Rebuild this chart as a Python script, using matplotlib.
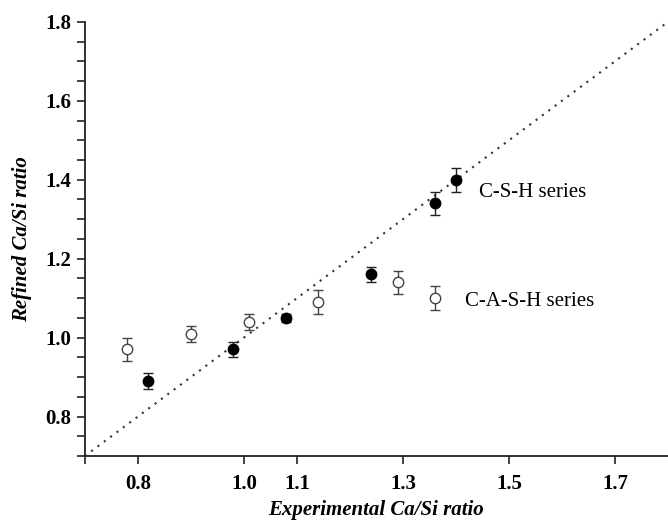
import matplotlib
matplotlib.use("Agg")
import matplotlib.pyplot as plt
import numpy as np

plt.rcParams['font.family'] = ['Liberation Serif', 'DejaVu Serif']

# C-S-H series (filled)
csh_x = [0.82, 0.98, 1.08, 1.24, 1.36, 1.40]
csh_y = [0.89, 0.97, 1.05, 1.16, 1.34, 1.40]
csh_err = [0.02, 0.02, 0.01, 0.02, 0.03, 0.03]

# C-A-S-H series (open)
cash_x = [0.78, 0.90, 1.01, 1.14, 1.29, 1.36]
cash_y = [0.97, 1.01, 1.04, 1.09, 1.14, 1.10]
cash_err = [0.03, 0.02, 0.02, 0.03, 0.03, 0.03]

xticks = [0.8, 1.0, 1.1, 1.3, 1.5, 1.7]
xtick_labels = ["0.8", "1.0", "1.1", "1.3", "1.5", "1.7"]
yticks = [0.8, 1.0, 1.2, 1.4, 1.6, 1.8]
ytick_labels = ["0.8", "1.0", "1.2", "1.4", "1.6", "1.8"]
diag = [0.7, 1.8]

fig = plt.figure(figsize=(6.68, 5.2), dpi=100)
ax = fig.add_axes([0.127, 0.123, 0.873, 0.835])

ax.plot(diag, diag, linestyle=(0, (1, 2.8)), color='#333333', linewidth=1.5, zorder=1)

ax.errorbar(cash_x, cash_y, yerr=cash_err, fmt='o', mfc='white', mec='#444444',
            mew=1.0, ms=7.5, ecolor='#444444', elinewidth=1.0, capsize=3.6, capthick=1.0, zorder=3)
ax.errorbar(csh_x, csh_y, yerr=csh_err, fmt='o', mfc='black', mec='black',
            ms=7.5, ecolor='#222222', elinewidth=1.0, capsize=3.6, capthick=1.0, zorder=3)

ax.text(1.443, 1.368, "C-S-H series", fontsize=15, va='center', ha='left')
ax.text(1.417, 1.092, "C-A-S-H series", fontsize=15, va='center', ha='left')

ax.set_xlim(0.7, 1.8)
ax.set_ylim(0.7, 1.8)
ax.set_xticks(xticks)
ax.set_xticklabels(xtick_labels, fontsize=15, fontweight='bold')
ax.set_xticks([0.7], minor=True)
ax.set_yticks(yticks)
ax.set_yticklabels(ytick_labels, fontsize=15, fontweight='bold')
ax.set_yticks(np.arange(0.7, 1.801, 0.05), minor=True)
ax.tick_params(which='both', direction='out', width=1.2, length=6, color='#222222')
ax.tick_params(axis='x', pad=7)
ax.spines['top'].set_visible(False)
ax.spines['right'].set_visible(False)
for s in ['left', 'bottom']:
    ax.spines[s].set_linewidth(1.3)
    ax.spines[s].set_color('#222222')

ax.set_xlabel("Experimental Ca/Si ratio", fontsize=15, fontweight='bold', style='italic', labelpad=4)
ax.set_ylabel("Refined Ca/Si ratio", fontsize=15, fontweight='bold', style='italic', labelpad=10)

fig.savefig("out.png", dpi=100)
